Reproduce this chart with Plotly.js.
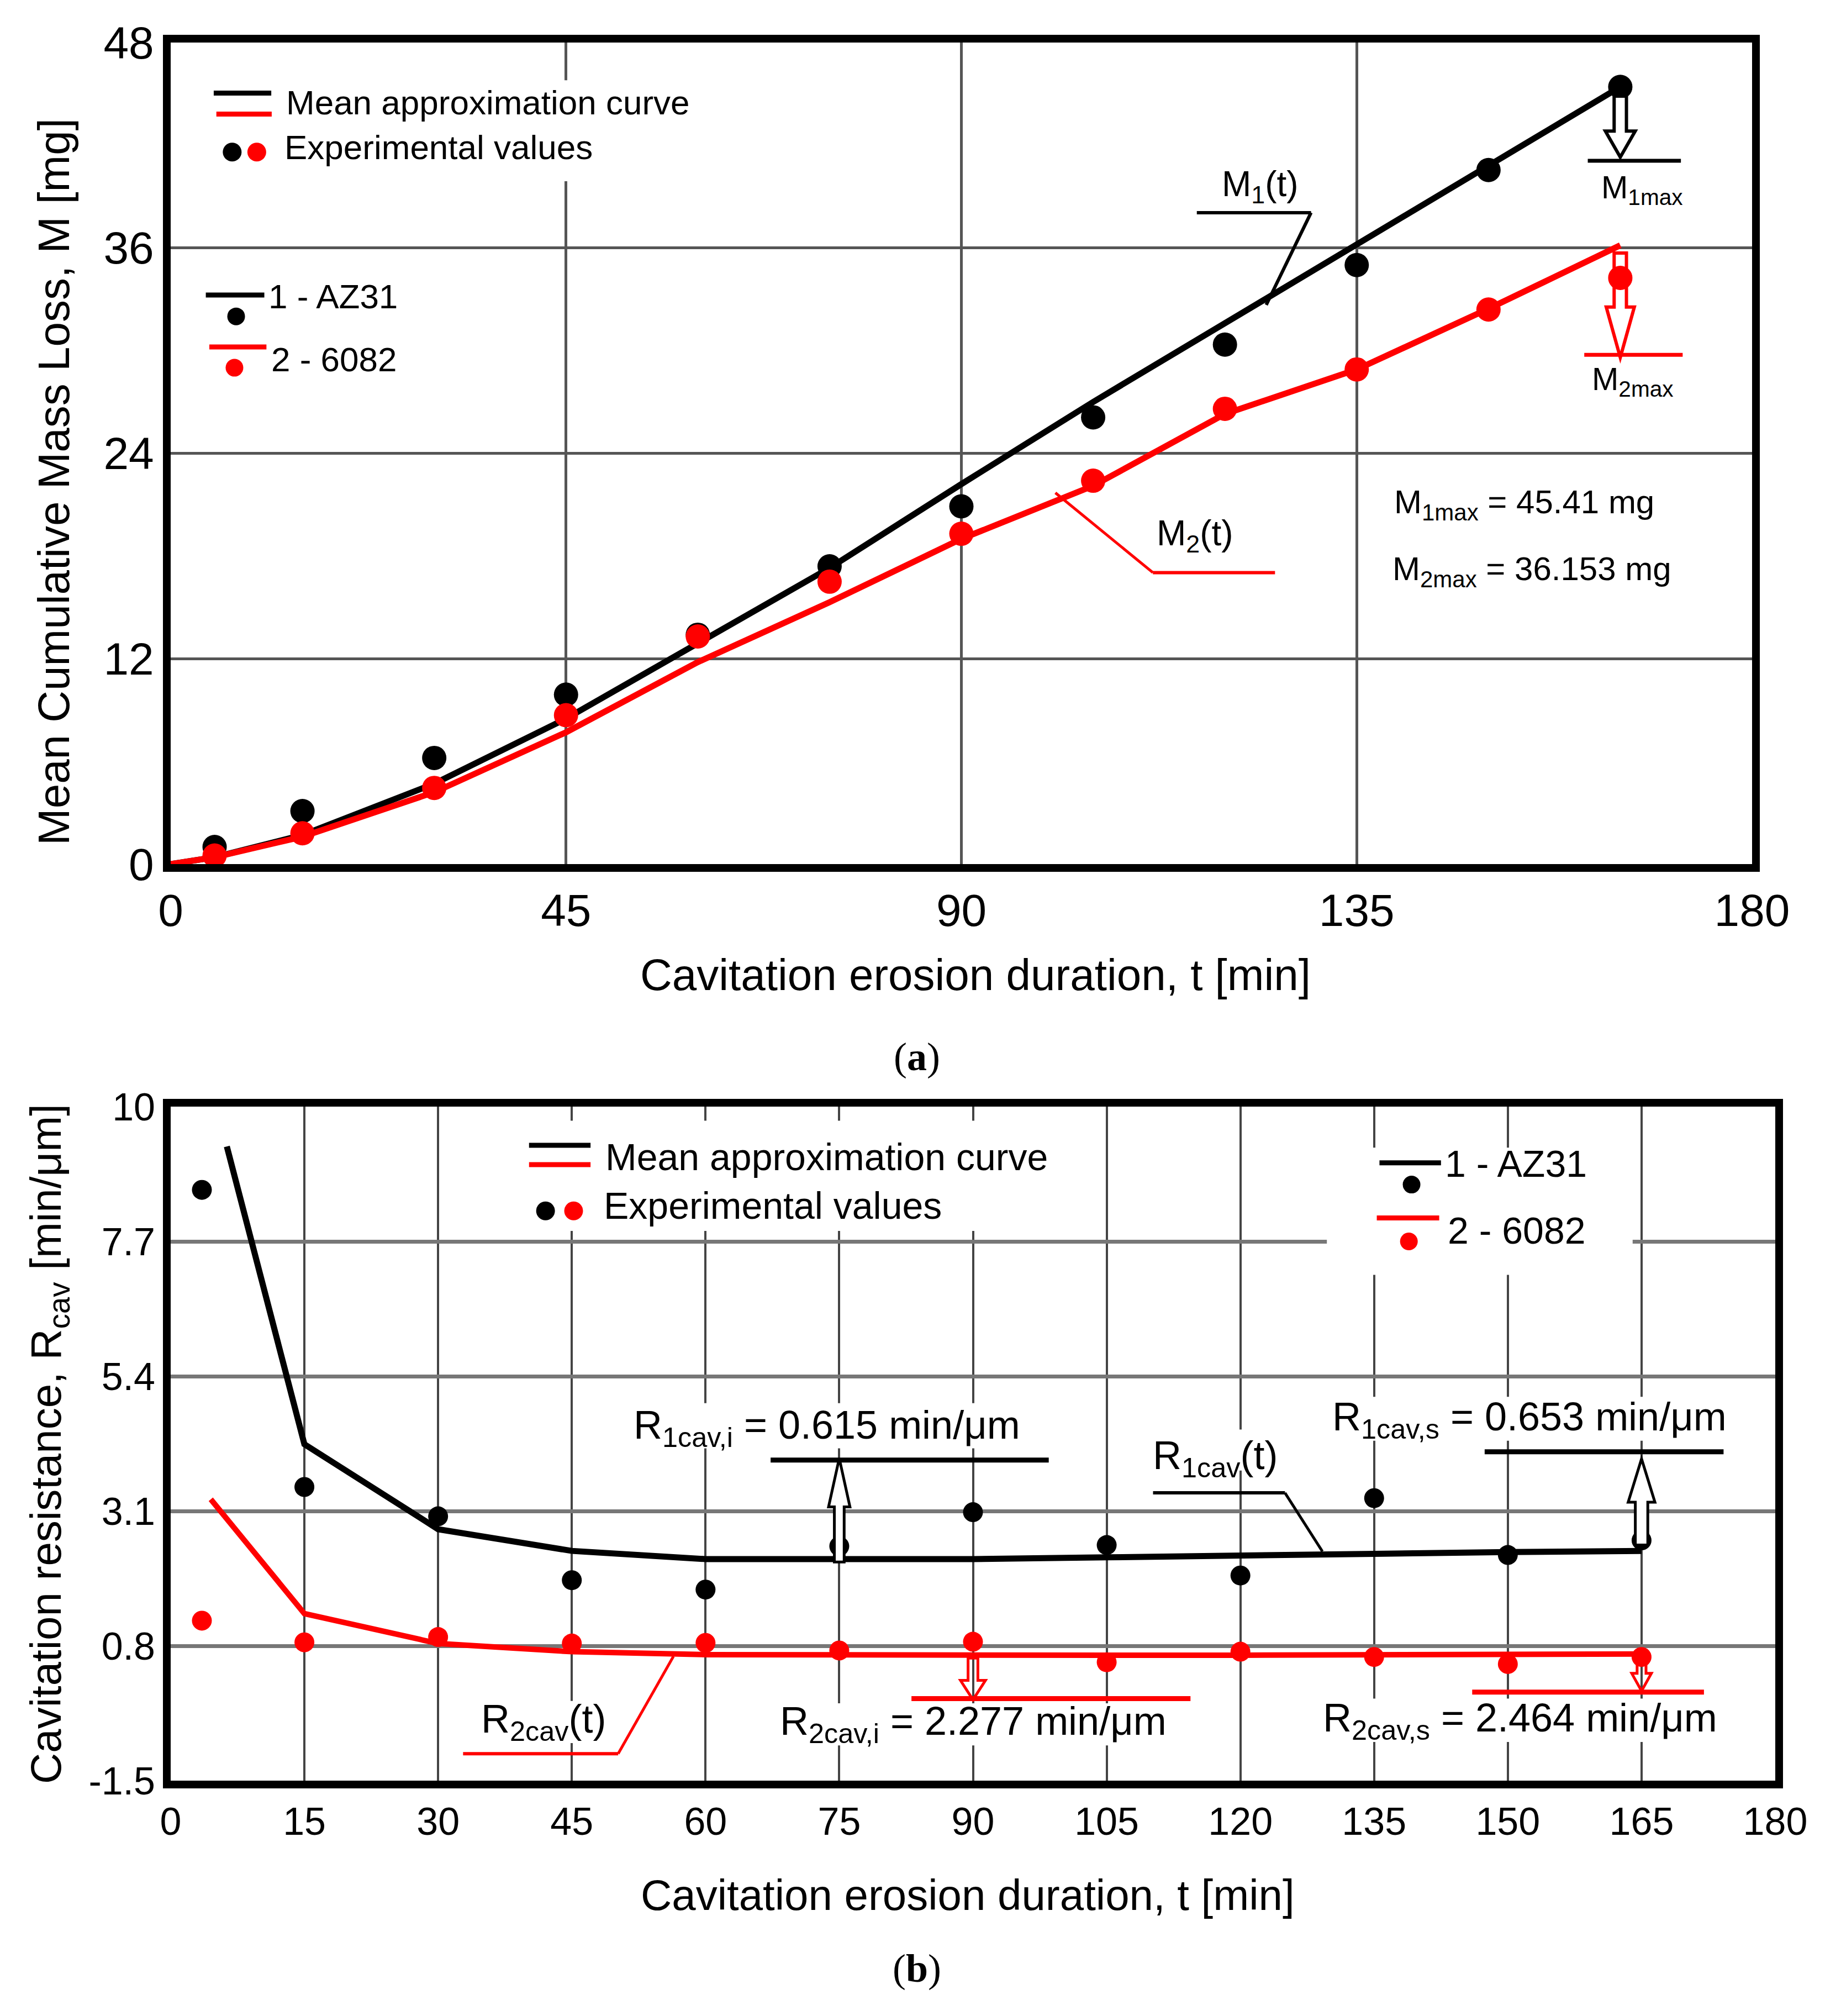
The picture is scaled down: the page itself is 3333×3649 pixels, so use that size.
<!DOCTYPE html>
<html>
<head>
<meta charset="utf-8">
<script src="https://cdn.plot.ly/plotly-3.0.1.min.js"></script>
<style>
  body { margin: 0; background: #fff; }
  #chart { width: 3333px; height: 3649px; }
</style>
</head>
<body>
<div id="chart"></div>
<script>
// ---- (a) mean cumulative mass loss ----
const tExpA = [5, 15, 30, 45, 60, 75, 90, 105, 120, 135, 150, 165];
const massAZ31 = [1.0, 3.1, 6.2, 9.9, 13.4, 17.4, 20.9, 26.1, 30.35, 35.0, 40.55, 45.41];
const mass6082 = [0.5, 1.8, 4.45, 8.7, 13.3, 16.5, 19.3, 22.4, 26.6, 28.9, 32.4, 34.25];
const tFitA = [0, 5, 15, 30, 45, 60, 75, 90, 105, 120, 135, 150, 165];
const fitMassAZ31 = [0, 0.4, 1.7, 4.7, 8.5, 12.9, 17.3, 22.2, 27.0, 31.6, 36.2, 40.8, 45.41];
const fitMass6082 = [0, 0.4, 1.6, 4.2, 7.7, 11.8, 15.3, 19.0, 22.1, 26.3, 28.9, 32.45, 36.153];
const xTicksA = [0, 45, 90, 135, 180];
const yTicksA = [0, 12, 24, 36, 48];

// ---- (b) cavitation resistance ----
const tExpB = [3.5, 15, 30, 45, 60, 75, 90, 105, 120, 135, 150, 165];
const resAZ31 = [8.58, 3.51, 3.01, 1.92, 1.76, 2.5, 3.08, 2.52, 2.0, 3.32, 2.35, 2.6];
const res6082 = [1.23, 0.86, 0.95, 0.84, 0.85, 0.72, 0.87, 0.52, 0.7, 0.61, 0.49, 0.61];
const tFitB1 = [6.3, 15, 30, 45, 60, 75, 90, 105, 120, 135, 150, 165];
const fitResAZ31 = [9.32, 4.24, 2.79, 2.42, 2.28, 2.27, 2.28, 2.31, 2.33, 2.37, 2.4, 2.42];
const tFitB2 = [4.5, 15, 30, 45, 60, 75, 90, 105, 120, 135, 150, 165];
const fitRes6082 = [3.3, 1.35, 0.84, 0.7, 0.65, 0.64, 0.64, 0.64, 0.64, 0.64, 0.65, 0.66];
const xTicksB = [0, 15, 30, 45, 60, 75, 90, 105, 120, 135, 150, 165, 180];
const yTicksB = [-1.5, 0.8, 3.1, 5.4, 7.7, 10];
const yTickTextB = ['-1.5', '0.8', '3.1', '5.4', '7.7', '10'];

const W = 3333, H = 3649;
const FONT = 'Liberation Sans, Arial, sans-serif';
const RED = '#ff0000';

// pixel -> paper helpers for the free-floating texts
px = (x) => x / W;
py = (y) => 1 - y / H;

// hollow arrow outline as a path in data units
hollowArrow = (t, yBase, yHead, yTip, shaft, head) => {
    return 'M' + (t - shaft) + ',' + yBase +
        ' L' + (t - shaft) + ',' + yHead +
        ' L' + (t - head) + ',' + yHead +
        ' L' + t + ',' + yTip +
        ' L' + (t + head) + ',' + yHead +
        ' L' + (t + shaft) + ',' + yHead +
        ' L' + (t + shaft) + ',' + yBase + ' Z';
}

seg = (xr, yr, x0, y0, x1, y1, color, w) => {
    return {type: 'line', xref: xr, yref: yr, x0: x0, y0: y0, x1: x1, y1: y1,
        line: {color: color, width: w}, layer: 'above'};
}

dot = (xr, yr, x, y, color, d) => {
    return {type: 'circle', xref: xr, yref: yr, xsizemode: 'pixel', ysizemode: 'pixel',
        xanchor: x, yanchor: y, x0: -d / 2, x1: d / 2, y0: -d / 2, y1: d / 2,
        fillcolor: color, line: {width: 0}, layer: 'above'};
}

// white patch that breaks the grid behind a text block
patch = (xr, yr, x0, x1, y0, y1) => {
    return {type: 'rect', xref: xr, yref: yr, x0: x0, x1: x1, y0: y0, y1: y1,
        fillcolor: '#fff', line: {width: 0}, layer: 'between'};
}

txt = (xr, yr, x, y, text, size, xanchor) => {
    return {xref: xr, yref: yr, x: x, y: y, text: text, showarrow: false,
        xanchor: xanchor || 'center', yanchor: 'middle',
        font: {family: FONT, size: size, color: '#000'}, borderpad: 0};
}

var data = [
    {x: tFitA, y: fitMassAZ31, xaxis: 'x', yaxis: 'y', type: 'scatter', mode: 'lines',
        line: {color: '#000', width: 11}},
    {x: tFitA, y: fitMass6082, xaxis: 'x', yaxis: 'y', type: 'scatter', mode: 'lines',
        line: {color: RED, width: 11}},
    {x: tExpA, y: massAZ31, xaxis: 'x', yaxis: 'y', type: 'scatter', mode: 'markers',
        marker: {color: '#000', size: 44}},
    {x: tExpA, y: mass6082, xaxis: 'x', yaxis: 'y', type: 'scatter', mode: 'markers',
        marker: {color: RED, size: 44}},
    {x: tFitB1, y: fitResAZ31, xaxis: 'x2', yaxis: 'y2', type: 'scatter', mode: 'lines',
        line: {color: '#000', width: 11}},
    {x: tFitB2, y: fitRes6082, xaxis: 'x2', yaxis: 'y2', type: 'scatter', mode: 'lines',
        line: {color: RED, width: 10}},
    {x: tExpB, y: resAZ31, xaxis: 'x2', yaxis: 'y2', type: 'scatter', mode: 'markers',
        marker: {color: '#000', size: 36}},
    {x: tExpB, y: res6082, xaxis: 'x2', yaxis: 'y2', type: 'scatter', mode: 'markers',
        marker: {color: RED, size: 36}}
];

var axisBase = {
    showline: true, mirror: true, linecolor: '#000', linewidth: 14,
    zeroline: false, ticks: '', showgrid: true, fixedrange: true,
    tickfont: {family: FONT, size: 82, color: '#000'}
};

var layout = {
    width: W, height: H,
    margin: {l: 0, r: 0, t: 0, b: 0},
    paper_bgcolor: '#fff', plot_bgcolor: '#fff',
    showlegend: false,
    font: {family: FONT, color: '#000'},
    xaxis: Object.assign({}, axisBase, {
        domain: [309 / W, 3172 / W], anchor: 'y', range: [0, 180],
        tickmode: 'array', tickvals: xTicksA, ticktext: xTicksA.map(String),
        gridcolor: '#555', gridwidth: 5, ticklabelstandoff: 0
    }),
    yaxis: Object.assign({}, axisBase, {
        domain: [1 - 1564 / H, 1 - 77 / H], anchor: 'x', range: [0, 48],
        tickmode: 'array', tickvals: yTicksA, ticktext: yTicksA.map(String),
        gridcolor: '#555', gridwidth: 5, ticklabelstandoff: 0
    }),
    xaxis2: Object.assign({}, axisBase, {
        domain: [309 / W, 3214 / W], anchor: 'y2', range: [0, 180],
        tickmode: 'array', tickvals: xTicksB, ticktext: xTicksB.map(String),
        gridcolor: '#444', gridwidth: 4, ticklabelstandoff: 0,
        tickfont: {family: FONT, size: 70, color: '#000'}
    }),
    yaxis2: Object.assign({}, axisBase, {
        domain: [1 - 3223 / H, 1 - 2003 / H], anchor: 'x2', range: [-1.5, 10],
        tickmode: 'array', tickvals: yTicksB, ticktext: yTickTextB,
        gridcolor: '#777', gridwidth: 7, ticklabelstandoff: 0,
        tickfont: {family: FONT, size: 70, color: '#000'}
    })
};

var shapes = [
    // white panels behind the key blocks and labels (they break the grid)
    patch('x', 'y', 0, 62, 39.9, 45.8),
    patch('x2', 'y2', 38.7, 100.5, 7.88, 9.76),
    patch('x2', 'y2', 129.7, 164.0, 7.13, 9.3),
    patch('x2', 'y2', 50.5, 96.8, 4.17, 4.94),
    patch('x2', 'y2', 130.6, 173.5, 4.3, 5.05),
    patch('x2', 'y2', 109.7, 124.6, 3.79, 4.49),
    patch('x2', 'y2', 34.4, 49.2, -0.86, -0.14),
    patch('x2', 'y2', 66.8, 113.2, -0.9, -0.18),
    patch('x2', 'y2', 130.0, 173.2, -0.84, -0.1),

    // (a) keys
    seg('x', 'y', 4.9, 45.05, 11.45, 45.05, '#000', 9),
    seg('x', 'y', 5.2, 43.82, 11.5, 43.82, RED, 9),
    dot('x', 'y', 7.0, 41.6, '#000', 34),
    dot('x', 'y', 9.8, 41.6, RED, 34),
    seg('x', 'y', 4.0, 33.25, 10.66, 33.25, '#000', 9),
    dot('x', 'y', 7.45, 32.0, '#000', 32),
    seg('x', 'y', 4.4, 30.21, 10.9, 30.21, RED, 9),
    dot('x', 'y', 7.26, 29.0, RED, 32),

    // (a) leaders
    seg('x', 'y', 116.8, 38.06, 129.8, 38.06, '#000', 6),
    seg('x', 'y', 129.8, 38.06, 124.7, 32.67, '#000', 6),
    seg('x', 'y', 100.7, 21.69, 111.8, 17.03, RED, 5),
    seg('x', 'y', 111.8, 17.03, 125.7, 17.03, RED, 6),

    // (a) max markers
    {type: 'path', xref: 'x', yref: 'y', path: hollowArrow(165, 44.87, 42.83, 41.3, 0.7, 1.7),
        fillcolor: '#fff', line: {color: '#000', width: 6}, layer: 'above'},
    seg('x', 'y', 161.3, 41.09, 171.9, 41.09, '#000', 7),
    {type: 'path', xref: 'x', yref: 'y', path: hollowArrow(165, 35.7, 32.55, 29.6, 0.7, 1.6),
        fillcolor: 'rgba(255,255,255,0)', line: {color: RED, width: 6}, layer: 'above'},
    seg('x', 'y', 160.9, 29.75, 172.1, 29.75, RED, 7),

    // (b) keys
    seg('x2', 'y2', 40.2, 9.34, 47.1, 9.34, '#000', 9),
    seg('x2', 'y2', 40.2, 9.01, 47.1, 9.01, RED, 9),
    dot('x2', 'y2', 42.05, 8.22, '#000', 34),
    dot('x2', 'y2', 45.2, 8.22, RED, 34),
    seg('x2', 'y2', 135.6, 9.04, 142.5, 9.04, '#000', 9),
    dot('x2', 'y2', 139.2, 8.67, '#000', 32),
    seg('x2', 'y2', 135.3, 8.1, 142.3, 8.1, RED, 9),
    dot('x2', 'y2', 138.9, 7.7, RED, 32),

    // (b) leaders and reference bars
    seg('x2', 'y2', 110.2, 3.41, 125.0, 3.41, '#000', 6),
    seg('x2', 'y2', 125.0, 3.41, 129.2, 2.41, '#000', 5),
    seg('x2', 'y2', 32.8, -1.04, 50.2, -1.04, RED, 6),
    seg('x2', 'y2', 50.2, -1.04, 56.4, 0.62, RED, 5),
    seg('x2', 'y2', 67.3, 3.97, 98.5, 3.97, '#000', 9),
    seg('x2', 'y2', 147.4, 4.11, 174.2, 4.11, '#000', 9),
    seg('x2', 'y2', 83.1, -0.1, 114.4, -0.1, RED, 9),
    seg('x2', 'y2', 146.0, 0.01, 172.0, 0.01, RED, 9),
    {type: 'path', xref: 'x2', yref: 'y2', path: hollowArrow(75, 2.23, 3.17, 4.0, 0.55, 1.2),
        fillcolor: '#fff', line: {color: '#000', width: 5}, layer: 'above'},
    {type: 'path', xref: 'x2', yref: 'y2', path: hollowArrow(165, 2.52, 3.25, 3.99, 0.7, 1.5),
        fillcolor: '#fff', line: {color: '#000', width: 5}, layer: 'above'},
    {type: 'path', xref: 'x2', yref: 'y2', path: hollowArrow(90, 0.59, 0.21, -0.12, 0.55, 1.4),
        fillcolor: 'rgba(255,255,255,0)', line: {color: RED, width: 5}, layer: 'above'},
    {type: 'path', xref: 'x2', yref: 'y2', path: hollowArrow(165, 0.61, 0.33, 0.03, 0.5, 1.1),
        fillcolor: 'rgba(255,255,255,0)', line: {color: RED, width: 5}, layer: 'above'}
];
layout.shapes = shapes;

var serif = {family: 'Liberation Serif, Times New Roman, serif', size: 72, color: '#000'};

var annotations = [
    // axis titles
    txt('paper', 'paper', px(1766), py(1764), 'Cavitation erosion duration, t [min]', 80),
    Object.assign(txt('paper', 'paper', px(98), py(872), 'Mean Cumulative Mass Loss, M [mg]', 80), {textangle: -90}),
    txt('paper', 'paper', px(1752), py(3430), 'Cavitation erosion duration, t [min]', 78),
    Object.assign(txt('paper', 'paper', px(88), py(2614), 'Cavitation resistance, R<sub>cav</sub> [min/μm]', 78), {textangle: -90}),
    // panel labels
    {xref: 'paper', yref: 'paper', x: px(1660), y: py(1913), xanchor: 'center', yanchor: 'middle',
        text: '(<b>a</b>)', showarrow: false, font: serif},
    {xref: 'paper', yref: 'paper', x: px(1660), y: py(3563), xanchor: 'center', yanchor: 'middle',
        text: '(<b>b</b>)', showarrow: false, font: serif},

    // (a) texts
    txt('x', 'y', 13.1, 44.49, 'Mean approximation curve', 62, 'left'),
    txt('x', 'y', 12.86, 41.88, 'Experimental values', 62, 'left'),
    txt('x', 'y', 11.06, 33.18, '1 - AZ31', 62, 'left'),
    txt('x', 'y', 11.38, 29.5, '2 - 6082', 62, 'left'),
    txt('x', 'y', 124.0, 39.6, 'M<sub>1</sub>(t)', 64),
    txt('x', 'y', 116.6, 19.2, 'M<sub>2</sub>(t)', 64),
    txt('x', 'y', 167.5, 39.4, 'M<sub>1max</sub>', 58),
    txt('x', 'y', 166.4, 28.2, 'M<sub>2max</sub>', 58),
    txt('x', 'y', 139.2, 21.0, 'M<sub>1max</sub> = 45.41 mg', 60, 'left'),
    txt('x', 'y', 139.0, 17.1, 'M<sub>2max</sub> = 36.153 mg', 60, 'left'),

    // (b) texts
    txt('x2', 'y2', 48.7, 9.14, 'Mean approximation curve', 68, 'left'),
    txt('x2', 'y2', 48.5, 8.31, 'Experimental values', 68, 'left'),
    txt('x2', 'y2', 142.9, 9.03, '1 - AZ31', 68, 'left'),
    txt('x2', 'y2', 143.2, 7.89, '2 - 6082', 68, 'left'),
    txt('x2', 'y2', 73.6, 4.52, 'R<sub>1cav,i</sub> = 0.615 min/μm', 72),
    txt('x2', 'y2', 152.4, 4.66, 'R<sub>1cav,s</sub> = 0.653 min/μm', 72),
    txt('x2', 'y2', 117.2, 4.0, 'R<sub>1cav</sub>(t)', 72),
    txt('x2', 'y2', 41.8, -0.5, 'R<sub>2cav</sub>(t)', 72),
    txt('x2', 'y2', 90.0, -0.53, 'R<sub>2cav,i</sub> = 2.277 min/μm', 72),
    txt('x2', 'y2', 151.4, -0.48, 'R<sub>2cav,s</sub> = 2.464 min/μm', 72)
];
layout.annotations = annotations;

Plotly.newPlot('chart', data, layout, {staticPlot: true});
</script>
</body>
</html>
